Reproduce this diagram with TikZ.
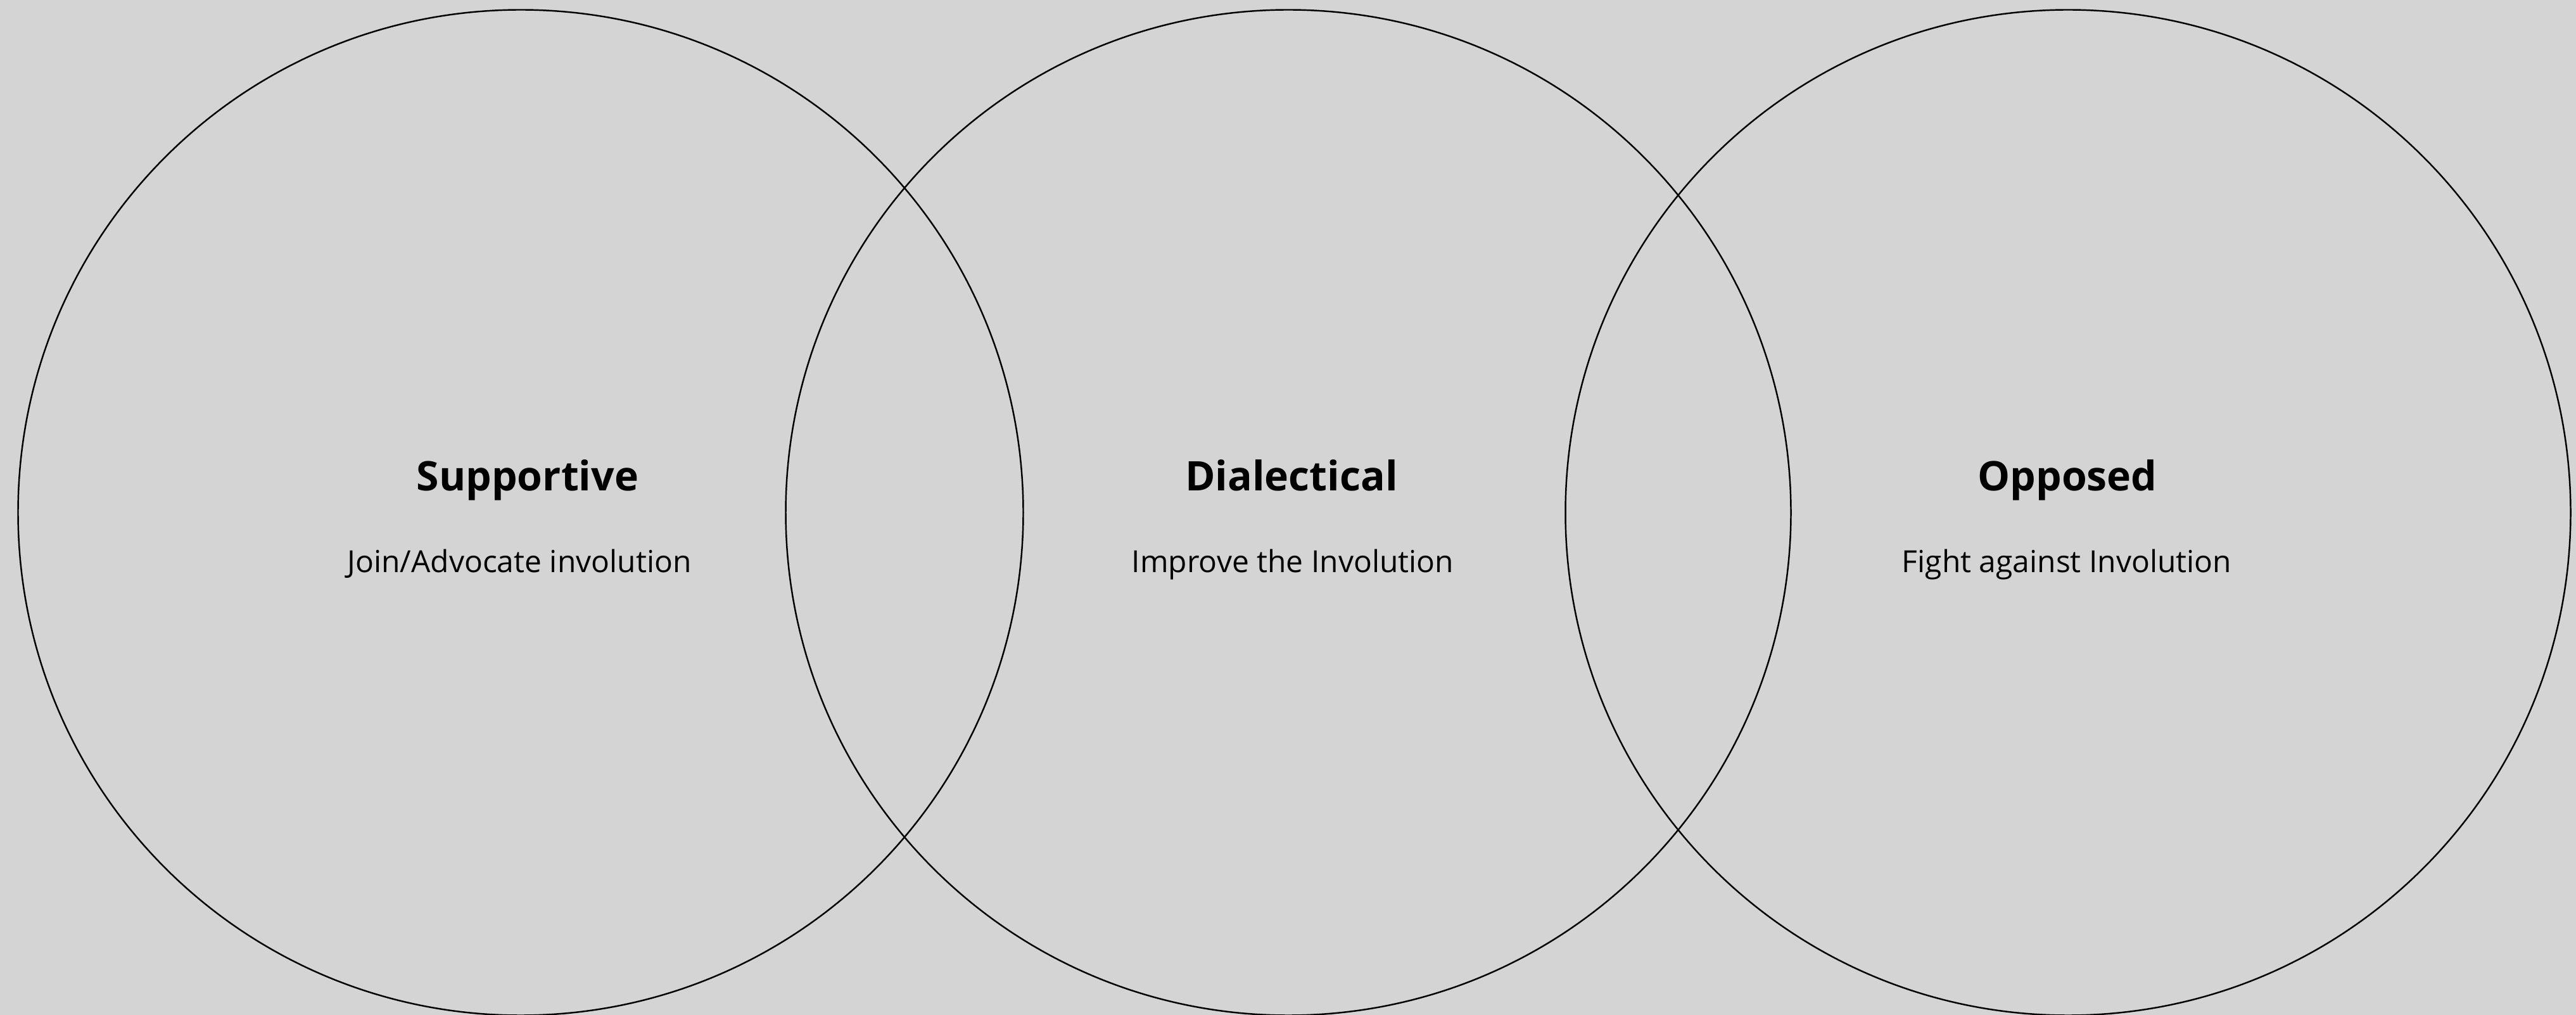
\documentclass[tikz,border=0pt]{standalone}
\usepackage{fontspec}
\setmainfont{Open Sans}
\definecolor{paper}{HTML}{D4D4D4}

\begin{document}
\begin{tikzpicture}[
  ring/.style={draw, circle, line width=0.7pt, minimum size=15.87cm, inner sep=0pt},
  heading/.style={font=\bfseries\fontsize{18.3}{22}\selectfont, anchor=base},
  caption/.style={font=\fontsize{13.65}{16}\selectfont, anchor=base}
  ]

  % --- background ---
  \fill[paper] (0,0) rectangle (40.67,16.02);
  \useasboundingbox (0,0) rectangle (40.67,16.02);

  % --- three circles ---
  \node[ring] (sup) at (8.22,7.93) {};
  \node[ring] (dia) at (20.34,7.93) {};
  \node[ring] (opp) at (32.65,7.93) {};

  % --- left: Supportive ---
  \node[heading] (supT) at ([xshift=0.11cm, yshift=0.34cm]sup.center) {Supportive};
  \node[caption] (supC) at ([xshift=-0.02cm, yshift=-0.95cm]sup.center) {Join/Advocate involution};

  % --- middle: Dialectical ---
  \node[heading] (diaT) at ([xshift=0.05cm, yshift=0.34cm]dia.center) {Dialectical};
  \node[caption] (diaC) at ([xshift=0.07cm, yshift=-0.95cm]dia.center) {Improve the Involution};

  % --- right: Opposed ---
  \node[heading] (oppT) at ([xshift=-0.01cm, yshift=0.34cm]opp.center) {Opposed};
  \node[caption] (oppC) at ([xshift=-0.02cm, yshift=-0.95cm]opp.center) {Fight against Involution};

\end{tikzpicture}
\end{document}
